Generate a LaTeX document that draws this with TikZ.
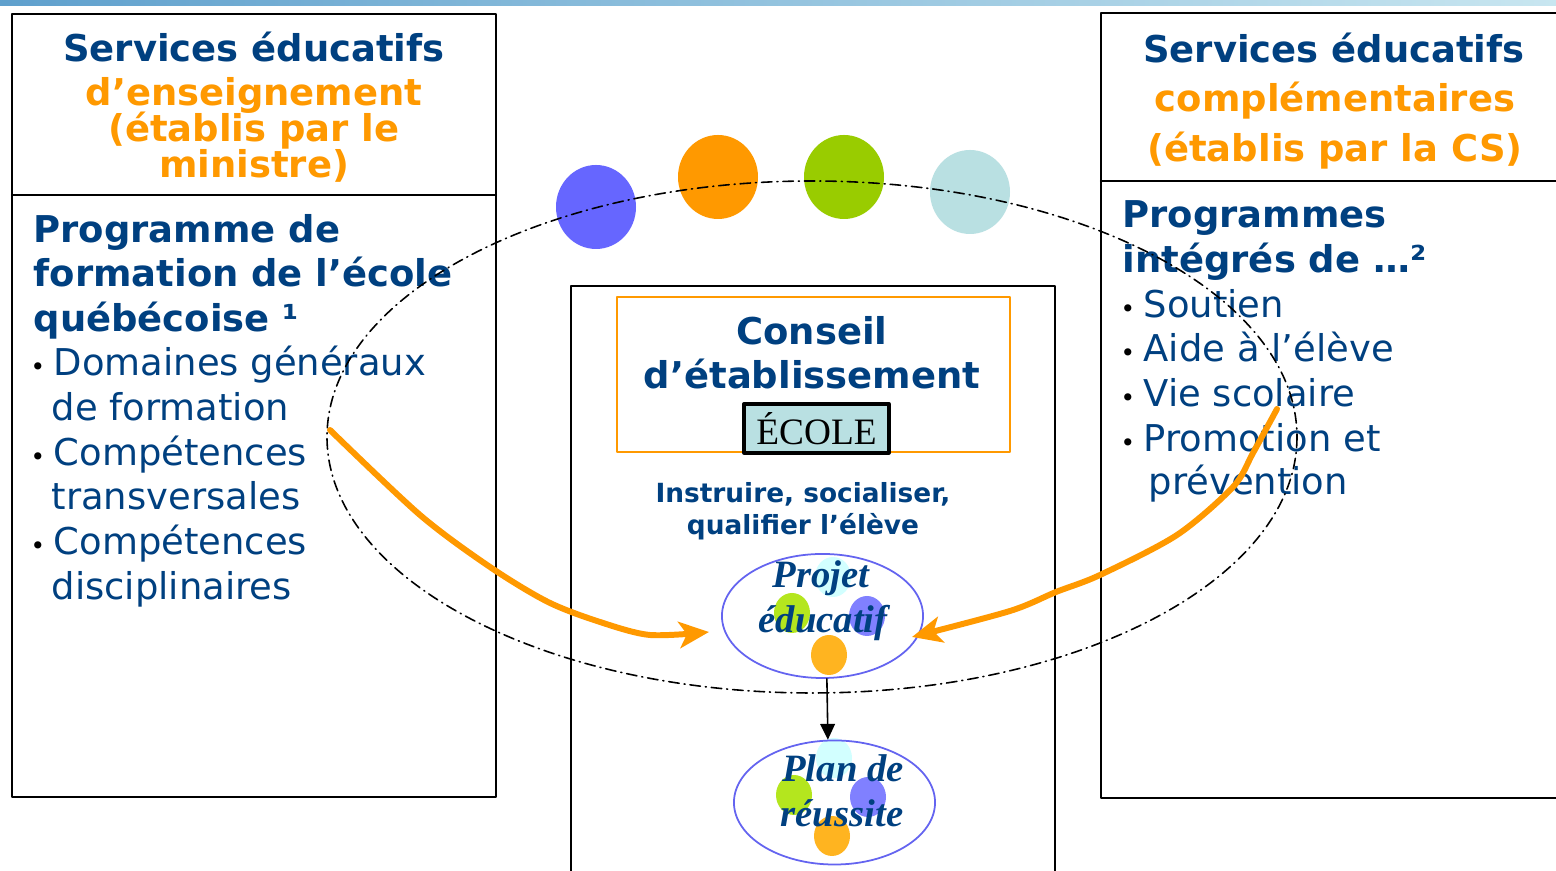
\documentclass[tikz,border=0pt]{standalone}
\usepackage{fontspec}
\setmainfont{DejaVu Sans}
\newfontfamily\tms{Liberation Serif}
\usetikzlibrary{arrows,arrows.meta,shapes.geometric}
\definecolor{navy}{RGB}{0,64,128}
\definecolor{orng}{RGB}{255,153,0}
\definecolor{ellblue}{RGB}{100,100,240}
\definecolor{ecole}{RGB}{185,224,226}
\definecolor{dotpurple}{RGB}{102,102,255}
\definecolor{dotgreen}{RGB}{153,204,0}
\definecolor{dotcyan}{RGB}{185,224,226}
\definecolor{inpurple}{RGB}{128,128,255}
\definecolor{ingreen}{RGB}{180,230,30}
\definecolor{incyan}{RGB}{210,255,255}
\definecolor{inorange}{RGB}{255,180,32}

\begin{document}
\begin{tikzpicture}[line cap=round,line join=round,>={Triangle[length=4.5pt,width=4.2pt]},x=0.01cm,y=-0.01cm,
  hdr/.style={anchor=base,inner sep=0,font=\bfseries\fontsize{10.5}{12.8}\selectfont,text=navy},
  sub/.style={hdr,text=orng},
  head/.style={anchor=base west,inner sep=0,font=\bfseries\fontsize{10.5}{12.8}\selectfont,text=navy},
  itm/.style={anchor=base west,inner sep=0,font=\fontsize{10.5}{12.8}\selectfont,text=navy},
  bul/.style={anchor=base west,inner sep=0,font=\fontsize{7}{7}\selectfont},
  motto/.style={hdr,font=\bfseries\fontsize{7.5}{9}\selectfont},
  frame/.style={line width=0.6pt},
  goal/.style={ellipse,draw=ellblue,line width=0.5pt,minimum width=2.01cm,minimum height=1.24cm,inner sep=0},
  goaltxt/.style={anchor=base,inner sep=0,font=\tms\bfseries\itshape\fontsize{11}{12.8}\selectfont,text=navy},
  ecolebox/.style={draw,line width=0.9pt,fill=ecole,minimum width=1.45cm,minimum height=0.49cm,inner sep=0,font=\tms\fontsize{10.6}{12}\selectfont},
  dashdot/.style={line width=0.45pt,dash pattern=on 3pt off 1.4pt on 0.3pt off 1.4pt},
  feed/.style={orng,line width=1.7pt,-{Stealth[length=8.5pt,width=7.5pt,inset=2.2pt]}}]
\useasboundingbox (0,0) rectangle (1556,871);
\clip (0,0) rectangle (1556,871);
\fill[white] (0,0) rectangle (1556,871);
\shade[left color={rgb,255:red,95;green,160;blue,205},right color={rgb,255:red,200;green,230;blue,240}] (0,0) rectangle (1556,6);

% left box
\draw[frame] (12,14) rectangle (496,797);
\draw[frame] (12,195) -- (496,195);
\node[hdr] (lt1) at (254,62) {Services éducatifs};
\node[sub] (lt2) at (254,106) {d’enseignement};
\node[sub] (lt3) at (254,142) {(établis par le};
\node[sub] (lt4) at (254,178) {ministre)};
\node[head] (lp1) at (33,243) {Programme de};
\node[head] (lp2) at (33,287) {formation de l’école};
\node[head] (lp3) at (33,332) {québécoise ¹};
\foreach \n/\x/\y/\t in {1/53/376/Domaines généraux,2/51/421/de formation,3/53/466/Compétences,
  4/51/510/transversales,5/53/555/Compétences,6/51/600/disciplinaires}
  \node[itm] (litem\n) at (\x,\y) {\t};
\foreach \y in {376,466,555}
  \node[bul] (ldot\y) at (30,\y) {•};

% right box
\draw[frame] (1101,13) rectangle (1570,798);
\draw[frame] (1101,181) -- (1570,181);
\node[hdr] (rt1) at (1334,63) {Services éducatifs};
\node[sub] (rt2) at (1335,112) {complémentaires};
\node[sub] (rt3) at (1335,162) {(établis par la CS)};
\node[head] (rp1) at (1122,228) {Programmes};
\node[head] (rp2) at (1122,273) {intégrés de …²};
\foreach \n/\x/\y/\t in {1/1143/318/Soutien,2/1143/362/Aide à l’élève,3/1143/407/Vie scolaire,
  4/1143/452/Promotion et,5/1148/495/prévention}
  \node[itm] (ritem\n) at (\x,\y) {\t};
\foreach \y in {318,362,407,452}
  \node[bul] (rdot\y) at (1120,\y) {•};

% school
\draw[frame] (571,880) -- (571,286) -- (1055,286) -- (1055,880);
\draw[orng,line width=0.6pt] (617,297) rectangle (1010,452);
\node[hdr] (cons1) at (812,345) {Conseil};
\node[hdr] (cons2) at (812,389) {d’établissement};
\node[ecolebox] (ecole) at (816.5,428.5) {ÉCOLE};
\node[motto] (instr1) at (803,503) {Instruire, socialiser,};
\node[motto] (instr2) at (803,535) {qualifier l’élève};

% coloured dots
\fill[dotpurple] (596,207) ellipse [x radius=40,y radius=42];
\fill[orng] (718,177) ellipse [x radius=40,y radius=42];
\fill[dotgreen] (844,177) ellipse [x radius=40,y radius=42];
\fill[dotcyan] (970,192) ellipse [x radius=40,y radius=42];
\fill[incyan] (833,577) ellipse [x radius=18,y radius=20];
\fill[ingreen] (792,613) ellipse [x radius=18,y radius=20];
\fill[inpurple] (867,616) ellipse [x radius=18,y radius=20];
\fill[inorange] (829,655) ellipse [x radius=18,y radius=20];
\fill[incyan] (834,758) ellipse [x radius=18,y radius=20];
\fill[ingreen] (794,795) ellipse [x radius=18,y radius=20];
\fill[inpurple] (868,797) ellipse [x radius=18,y radius=20];
\fill[inorange] (832,836) ellipse [x radius=18,y radius=20];

\node[goal] (projet) at (822.5,616) {};
\node[goaltxt] (projet1) at (821,588) {Projet};
\node[goaltxt] (projet2) at (823,633) {éducatif};
\node[goal] (plan) at (834.5,802.5) {};
\node[goaltxt] (plan1) at (843,782) {Plan de};
\node[goaltxt] (plan2) at (842,827) {réussite};
\draw[->,line width=0.45pt] (projet.-86) -- (plan.96);

\draw[dashdot] (812,437) ellipse [x radius=485,y radius=256];

% orange arrows
\coordinate (lstart) at (330,430);
\coordinate (ltip) at (709,632);
\coordinate (rstart) at (1277,409);
\coordinate (rtip) at (912,637);
\draw[feed] plot[smooth,tension=0.5] coordinates {(lstart) (420,515) (490,567) (548,602) (600,622) (650,635) (ltip)};
\draw[feed] plot[smooth,tension=0.5] coordinates {(rstart) (1253,453) (1233,487) (1177,535) (1100,575) (1056,592) (1010,611) (rtip)};
\end{tikzpicture}
\end{document}
